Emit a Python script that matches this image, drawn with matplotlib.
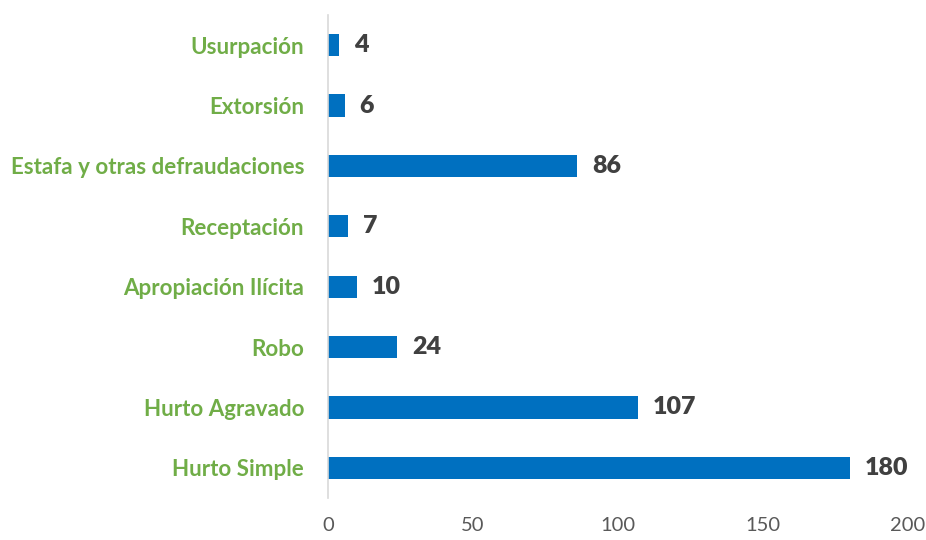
import matplotlib
matplotlib.use("Agg")
import matplotlib.pyplot as plt

categories = ["Hurto Simple", "Hurto Agravado", "Robo", "Apropiación Ilícita",
              "Receptación", "Estafa y otras defraudaciones", "Extorsión", "Usurpación"]
values = [180, 107, 24, 10, 7, 86, 6, 4]
xticks = [0, 50, 100, 150, 200]

plt.rcParams['font.family'] = ['Lato', 'DejaVu Sans']

fig = plt.figure(figsize=(9.26, 5.4), dpi=100)
ax = fig.add_axes([0.354, 0.078, 0.6266, 0.894])

y = range(len(categories))
ax.barh(y, values, height=0.37, color="#0070C0")
for yi, v in zip(y, values):
    ax.text(v + 5, yi, str(v), va="center", ha="left", fontsize=18,
            fontweight="heavy", color="#404040")

ax.set_yticks(list(y))
ax.set_yticklabels(categories, fontsize=16.1, fontweight="bold", color="#70AD47")
ax.set_ylim(-0.5, len(categories) - 0.5)
ax.set_xlim(0, 200)
ax.set_xticks(xticks)
ax.set_xticklabels([str(t) for t in xticks], fontsize=14.5, color="#595959")
ax.tick_params(axis="both", length=0)
ax.tick_params(axis="y", pad=17)
ax.tick_params(axis="x", pad=14)
for s in ["top", "right", "bottom"]:
    ax.spines[s].set_visible(False)
ax.spines["left"].set_color("#D9D9D9")
ax.spines["left"].set_linewidth(1.2)

fig.savefig("out.png", dpi=100)
